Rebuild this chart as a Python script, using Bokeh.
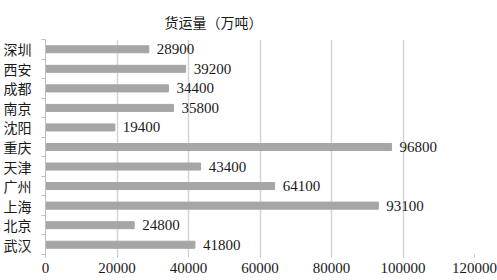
from bokeh.plotting import figure
from bokeh.models import ColumnDataSource, FixedTicker, Range1d, LinearAxis, Title, BasicTickFormatter
from bokeh.core.properties import value
from bokeh.embed import file_html
from bokeh.resources import INLINE

cities = ["深圳", "西安", "成都", "南京", "沈阳", "重庆", "天津", "广州", "上海", "北京", "武汉"]
freight = [28900, 39200, 34400, 35800, 19400, 96800, 43400, 64100, 93100, 24800, 41800]
x_ticks = [0, 20000, 40000, 60000, 80000, 100000, 120000]
title_text = "货运量（万吨）"

n = len(cities)
ypos = [n - i for i in range(n)]
src = ColumnDataSource(dict(city=cities, v=freight, y=ypos, lbl=[str(v) for v in freight]))

p = figure(width=497, height=280, output_backend="svg", toolbar_location=None,
           x_range=Range1d(0, 120000), y_range=Range1d(0.5, n + 0.5),
           min_border_left=42, min_border_right=23, min_border_top=39, min_border_bottom=26,
           y_axis_location=None, x_axis_location=None)
p.outline_line_color = None
p.background_fill_color = "white"
p.border_fill_color = "white"

# grid
p.xgrid.ticker = FixedTicker(ticks=x_ticks)
p.xgrid.grid_line_color = "#d4d4d4"
p.xgrid.grid_line_width = 1.5
p.ygrid.grid_line_color = None

p.hbar(y="y", right="v", left=0, height=0.36, source=src, color="#a6a6a6")
p.text(x="v", y="y", text="lbl", source=src, x_offset=8, text_baseline="middle",
       text_font=value("Liberation Serif"), text_font_size="15px", text_color="#1a1a1a")

# x axis
xa = LinearAxis(ticker=FixedTicker(ticks=x_ticks), formatter=BasicTickFormatter(use_scientific=False))
xa.axis_line_color = None
xa.major_tick_line_color = "#bfbfbf"
xa.major_tick_out = 3
xa.major_tick_in = 0
xa.minor_tick_line_color = None
xa.major_label_text_font = "Liberation Serif"
xa.major_label_text_font_size = "15px"
xa.major_label_text_color = "#1a1a1a"
xa.major_label_standoff = 5
p.add_layout(xa, "below")

# y axis
ya = LinearAxis(ticker=FixedTicker(ticks=ypos, minor_ticks=[k + 0.5 for k in range(n + 1)]))
ya.major_label_overrides = {yv: c for yv, c in zip(ypos, cities)}
ya.axis_line_color = "#bfbfbf"
ya.major_tick_line_color = None
ya.major_tick_out = 0
ya.major_tick_in = 0
ya.minor_tick_line_color = "#bfbfbf"
ya.minor_tick_out = 4
ya.minor_tick_in = 0
ya.major_label_text_font = "Noto Sans CJK SC"
ya.major_label_text_font_size = "14px"
ya.major_label_text_color = "#1a1a1a"
ya.major_label_standoff = 10
p.add_layout(ya, "left")

t = Title(text=title_text, align="left", offset=119, text_font="Noto Sans CJK SC",
          text_font_size="14px", text_font_style="normal", text_color="#1a1a1a")
spacer = Title(text=" ", text_font_size="1px", standoff=0)
p.add_layout(spacer, "above")
p.add_layout(t, "above")

open("out.html", "w").write(file_html(p, INLINE))
